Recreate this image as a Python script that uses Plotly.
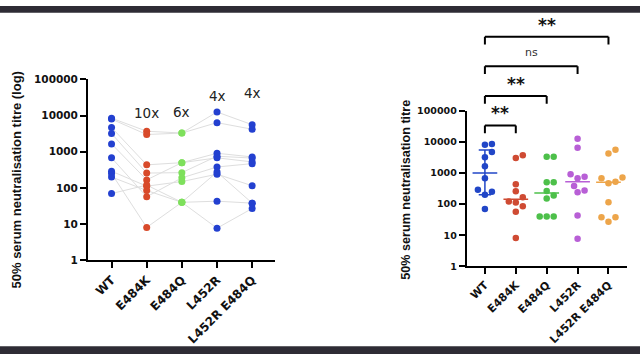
import numpy as np
import plotly.graph_objects as go

categories = ["WT", "E484K", "E484Q", "L452R", "L452R E484Q"]
# per-subject titres (same 10 sera across variants)
wt = [8500, 8000, 4700, 3200, 1650, 680, 290, 250, 200, 70]
e484k = [3700, 3000, 435, 258, 167, 57, 112, 8.1, 85, 120]
e484q = [3300, 3300, 500, 265, 500, 190, 150, 40, 40, 40]
l452r = [12600, 6400, 910, 755, 680, 380, 240, 7.7, 43, 275]
l452r_e484q = [5600, 4200, 720, 670, 525, 470, 115, 27, 38, 38]
series = [wt, e484k, e484q, l452r, l452r_e484q]
fold_labels = ["", "10x", "6x", "4x", "4x"]
fold_label_y = [None, 11500, 12600, 35000, 41000]
medians = [1000, 143, 227, 525, 500]
wt_iqr = [200, 5500]
comparisons = [(0, 1, "**"), (0, 2, "**"), (0, 3, "ns"), (0, 4, "**")]
tick_vals = [1, 10, 100, 1000, 10000, 100000]
tick_text = ["1", "10", "100", "1000", "10000", "100000"]

W, H = 640, 360
L_X = [0.1375, 0.4297]; L_Y = [0.2694, 0.7889]; L_R = [-0.67, 4.65]
R_X = [0.7292, 0.9792]; R_Y = [0.2519, 0.6992]; R_R = [-0.59, 4.59]

left_colors = ["#2340d0", "#d84a2a", "#7ee05c", "#2340d0", "#2340d0"]
right_colors = ["#2146c7", "#cf4b33", "#4dc04a", "#b85fd6", "#eda54a"]

fig = go.Figure()
xs = list(range(len(categories)))

# paired lines (left)
for s in range(len(wt)):
    fig.add_trace(go.Scatter(x=xs, y=[series[c][s] for c in xs], mode="lines",
                             line=dict(color="#dedede", width=1), xaxis="x", yaxis="y",
                             showlegend=False, hoverinfo="skip"))
for c in xs:
    fig.add_trace(go.Scatter(x=[c] * len(series[c]), y=series[c], mode="markers",
                             marker=dict(color=left_colors[c], size=7), xaxis="x", yaxis="y",
                             showlegend=False))

# beeswarm (right)
px_dec = (R_Y[1] - R_Y[0]) * H / 5.0
px_unit = (R_X[1] - R_X[0]) * W / (R_R[1] - R_R[0])
diam = 7.0


def swarm(vals):
    ys = np.log10(vals) * px_dec
    order = np.argsort(ys)
    placed = []
    offs = np.zeros(len(vals))
    cands = [0.0]
    for k in range(1, 12):
        cands += [k * diam * 0.5, -k * diam * 0.5]
    for i in order:
        for cx in cands:
            ok = all((cx - px) ** 2 + (ys[i] - py) ** 2 >= diam ** 2 * 0.95 for px, py in placed)
            if ok:
                placed.append((cx, ys[i]))
                offs[i] = cx
                break
    return offs / px_unit


for c in xs:
    off = swarm(series[c])
    fig.add_trace(go.Scatter(x=c + off, y=series[c], mode="markers",
                             marker=dict(color=right_colors[c], size=6.5), xaxis="x2", yaxis="y2",
                             showlegend=False))
    fig.add_trace(go.Scatter(x=[c - 0.4, c + 0.4], y=[medians[c]] * 2, mode="lines",
                             line=dict(color=right_colors[c], width=1.5), xaxis="x2", yaxis="y2",
                             showlegend=False, hoverinfo="skip"))
# WT interquartile bar
fig.add_trace(go.Scatter(x=[0, 0, None, -0.2, 0.2, None, -0.2, 0.2],
                         y=[wt_iqr[0], wt_iqr[1], None, wt_iqr[0], wt_iqr[0], None, wt_iqr[1], wt_iqr[1]],
                         mode="lines", line=dict(color=right_colors[0], width=1.5),
                         xaxis="x2", yaxis="y2", showlegend=False, hoverinfo="skip"))

ann = []
for c in xs:
    if fold_labels[c]:
        ann.append(dict(x=c, y=np.log10(fold_label_y[c]), xref="x", yref="y", text=fold_labels[c],
                        showarrow=False, font=dict(family="DejaVu Sans", size=13.5, color="#222")))

shapes = []
base, step, drop = 0.905, 0.19, 0.05
for i, (a, b, t) in enumerate(comparisons):
    yv = base + i * step
    ln = dict(color="black", width=2)
    shapes.append(dict(type="line", xref="x2", yref="y2 domain", x0=a, x1=b, y0=yv, y1=yv, line=ln))
    shapes.append(dict(type="line", xref="x2", yref="y2 domain", x0=a, x1=a, y0=yv, y1=yv - drop, line=ln))
    shapes.append(dict(type="line", xref="x2", yref="y2 domain", x0=b, x1=b, y0=yv, y1=yv - drop, line=ln))
    if t == "ns":
        ann.append(dict(x=(a + b) / 2, y=yv, xref="x2", yref="y2 domain", text=t, showarrow=False,
                        yanchor="bottom", yshift=5, font=dict(family="DejaVu Sans", size=11, color="#333")))
    else:
        ann.append(dict(x=(a + b) / 2, y=yv, xref="x2", yref="y2 domain", text=t, showarrow=False,
                        yanchor="bottom", yshift=0, font=dict(family="DejaVu Sans", size=17, color="#111", weight="bold")))

ann.append(dict(x=15.5 / W, y=0.5, xref="paper", yref="paper", text="50% serum neutralisation titre (log)",
                textangle=-90, showarrow=False, xanchor="center", yanchor="middle",
                font=dict(family="Liberation Sans", size=13, color="#111", weight="bold")))
ann.append(dict(x=406 / W, y=1 - 190 / H, xref="paper", yref="paper", text="50% serum neutralisation titre",
                textangle=-90, showarrow=False, xanchor="center", yanchor="middle",
                font=dict(family="Liberation Sans", size=12.6, color="#111", weight="bold")))

# dark photo bands
shapes.append(dict(type="rect", xref="paper", yref="paper", x0=0, x1=1, y0=1 - 7 / H, y1=1,
                   fillcolor="#2e2c35", line=dict(width=0), layer="above"))
shapes.append(dict(type="rect", xref="paper", yref="paper", x0=0, x1=1, y0=0, y1=8 / H,
                   fillcolor="#2e2c35", line=dict(width=0), layer="above"))

axis_common = dict(showline=True, linecolor="black", linewidth=2, ticks="outside", tickwidth=2,
                   ticklen=6, tickcolor="black", showgrid=False, zeroline=False)

fig.update_layout(
    width=W, height=H, margin=dict(l=0, r=0, t=0, b=0),
    paper_bgcolor="white", plot_bgcolor="rgba(0,0,0,0)", showlegend=False,
    xaxis=dict(domain=L_X, range=L_R, tickvals=xs, ticktext=categories, tickangle=-45, anchor="y",
               tickfont=dict(family="DejaVu Sans", size=12, color="#111", weight="bold"), **axis_common),
    yaxis=dict(domain=L_Y, type="log", range=[0, 5], tickvals=tick_vals, ticktext=tick_text, anchor="x",
               tickfont=dict(family="DejaVu Sans", size=10.5, color="#111", weight="bold"), **axis_common),
    xaxis2=dict(domain=R_X, range=R_R, tickvals=xs, ticktext=categories, tickangle=-45, anchor="y2",
                tickfont=dict(family="DejaVu Sans", size=11, color="#111", weight="bold"), **axis_common),
    yaxis2=dict(domain=R_Y, type="log", range=[0, 5], tickvals=tick_vals, ticktext=tick_text, anchor="x2",
                tickfont=dict(family="DejaVu Sans", size=9.5, color="#111", weight="bold"), **axis_common),
    annotations=ann, shapes=shapes,
)
fig.write_html("out.html", config={"displayModeBar": False},
               post_script="document.body.style.margin='0';document.body.style.overflow='hidden';")
